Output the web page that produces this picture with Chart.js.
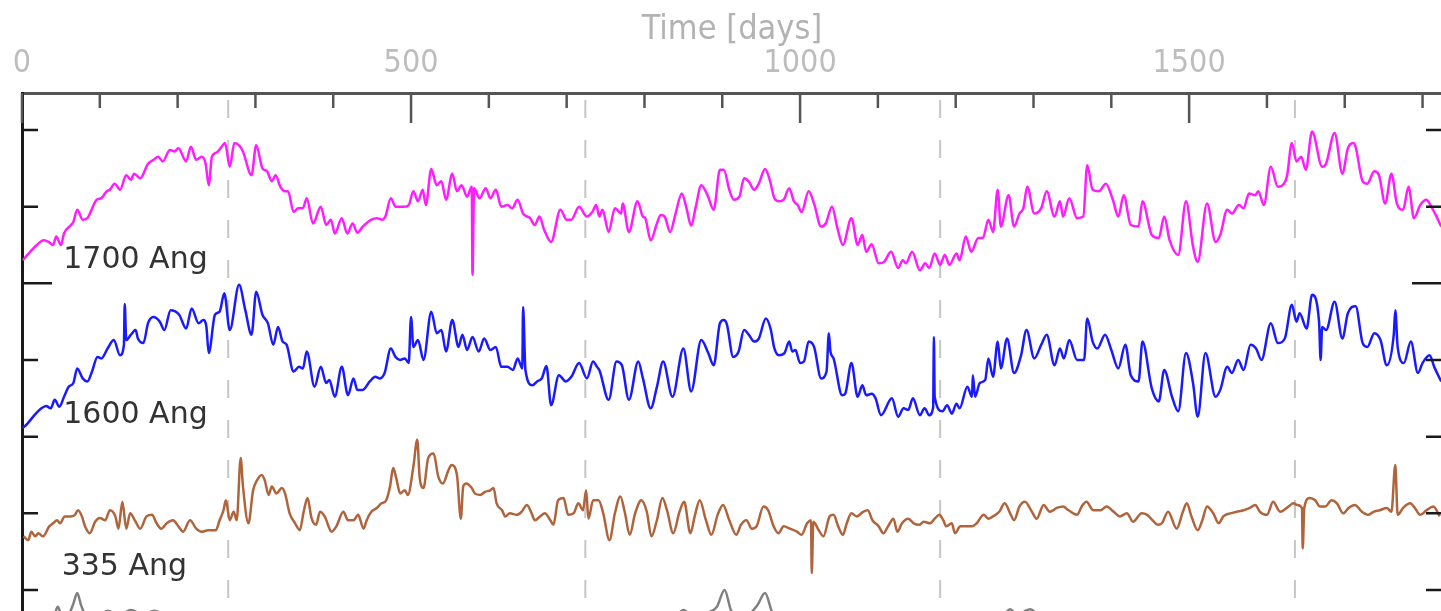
<!doctype html>
<html lang="en">

<head>
    <meta charset="utf-8">
    <style>
        html,
        body {
            margin: 0;
            padding: 0;
            background: #fff;
            overflow: hidden;
        }
    </style>
    <script src="https://cdn.jsdelivr.net/npm/chart.js@4.4.1/dist/chart.umd.min.js"></script>
</head>

<body>
    <canvas id="lightCurves" width="1450" height="611"></canvas>

    <script>
        // axis ticks
        const timeTicks = [0, 500, 1000, 1500];
        const offsetTicks = [0, 1, 2, 3, 4, 5, 6];
        // grey dashed markers (days)
        const markerDays = [265, 724, 1180, 1636];
        const bandNames = ['1700 Ang', '1600 Ang', '335 Ang'];

        // 1700 Ang
        const days1700 = [
            1, 7, 19, 28, 34, 40, 44, 50, 54, 63,
            66, 71, 78, 84, 96, 102, 109, 113, 119, 126,
            134, 140, 144, 152, 162, 169, 175, 181, 190, 196,
            201, 211, 217, 224, 231, 236, 240, 244, 249, 252,
            258, 261, 267, 273, 279, 284, 295, 301, 309, 315,
            321, 326, 332, 338, 342, 349, 355, 361, 366, 374,
            384, 391, 397, 402, 411, 418, 425, 431, 438, 449,
            456, 463, 467, 474, 480, 491, 497, 503, 509, 515,
            519, 526, 533, 539, 545, 553, 559, 565, 572, 578,
            579, 581, 588, 596, 602, 609, 616, 624, 630, 637,
            644, 653, 659, 665, 671, 680, 692, 700, 706, 716,
            726, 733, 738, 742, 746, 754, 762, 770, 772, 780,
            791, 798, 801, 808, 816, 821, 826, 833, 840, 848,
            854, 860, 866, 873, 881, 889, 897,
            902, 909, 915, 922, 928, 934, 941, 947, 955, 961,
            967, 973, 979, 986, 992, 997, 1002, 1011, 1018, 1027,
            1033, 1041, 1048, 1055, 1066, 1074, 1080, 1085, 1092, 1101,
            1108, 1117, 1126, 1132, 1136, 1144, 1154, 1161, 1166, 1173,
            1180, 1186, 1192, 1201, 1205, 1213, 1220, 1229, 1235, 1242,
            1248, 1254, 1258, 1268, 1275, 1282, 1287, 1292, 1301, 1310,
            1317, 1327, 1334, 1338, 1346, 1356, 1364, 1369, 1376, 1384,
            1393, 1402, 1409, 1416, 1425, 1435, 1440, 1452, 1461, 1468,
            1475, 1486, 1496, 1505, 1511, 1523, 1534, 1540, 1549, 1555,
            1564, 1570, 1577, 1585, 1589, 1596, 1605, 1614, 1622, 1626,
            1632, 1638, 1644, 1650, 1658, 1671, 1676, 1687, 1697, 1704,
            1711, 1714, 1723, 1729, 1738, 1744, 1752, 1760, 1767, 1775,
            1782, 1789, 1797, 1805, 1809, 1818, 1824
        ];
        const flux1700 = [
            4.30, 4.37, 4.50, 4.56, 4.54, 4.50, 4.61, 4.50, 4.65, 4.76,
            4.80, 4.96, 4.83, 4.85, 5.09, 5.11, 5.20, 5.22, 5.30, 5.22,
            5.41, 5.35, 5.43, 5.37, 5.56, 5.61, 5.65, 5.59, 5.74, 5.72,
            5.76, 5.59, 5.78, 5.61, 5.65, 5.56, 5.28, 5.65, 5.70, 5.72,
            5.80, 5.83, 5.52, 5.83, 5.80, 5.72, 5.41, 5.80, 5.50, 5.46,
            5.33, 5.41, 5.26, 5.20, 5.20, 4.93, 4.98, 4.98, 5.11, 4.78,
            5.00, 4.76, 4.83, 4.65, 4.85, 4.65, 4.78, 4.66, 4.74, 4.83,
            4.85, 4.83, 4.87, 5.11, 5.00, 5.00, 5.02, 5.20, 5.07, 5.22,
            5.02, 5.49, 5.28, 5.33, 5.09, 5.43, 5.20, 5.28, 5.13, 5.26,
            4.11, 5.24, 5.11, 5.24, 5.11, 5.22, 5.00, 5.02, 4.98, 5.09,
            4.91, 4.85, 4.76, 4.87, 4.70, 4.54, 4.96, 4.83, 4.83, 5.00,
            4.87, 4.93, 5.02, 4.87, 4.96, 4.67, 4.98, 4.91, 5.04, 4.67,
            5.07, 4.87, 4.85, 4.56, 4.78, 4.89, 4.87, 4.67, 4.91, 5.17,
            4.98, 4.75, 5.00, 5.28, 5.15, 4.96, 5.48,
            5.48, 5.22, 5.09, 5.13, 5.37, 5.33, 5.22, 5.30, 5.49, 5.35,
            5.11, 5.07, 5.09, 5.24, 5.07, 5.02, 4.93, 5.20, 5.04, 4.74,
            4.78, 5.00, 4.72, 4.50, 4.85, 4.50, 4.63, 4.41, 4.51, 4.26,
            4.28, 4.41, 4.20, 4.30, 4.26, 4.41, 4.17, 4.26, 4.20, 4.39,
            4.24, 4.37, 4.24, 4.39, 4.30, 4.61, 4.41, 4.59, 4.59, 4.83,
            4.67, 5.22, 4.74, 5.15, 4.74, 4.91, 4.98, 5.26, 4.91, 4.98,
            5.20, 4.87, 5.07, 4.87, 5.11, 4.85, 4.87, 5.54, 5.22, 5.20,
            5.30, 5.09, 4.87, 5.15, 4.76, 4.74, 5.07, 4.63, 4.59, 4.87,
            4.56, 4.37, 5.07, 4.48, 4.28, 5.04, 4.54, 4.63, 4.96, 4.91,
            5.02, 4.98, 5.17, 5.15, 5.20, 5.02, 5.52, 5.26, 5.30, 5.41,
            5.83, 5.59, 5.65, 5.48, 5.98, 5.52, 5.56, 5.96, 5.43, 5.76,
            5.83, 5.78, 5.33, 5.30, 5.46, 5.41, 5.04, 5.43, 5.04, 4.96,
            5.26, 4.85, 5.02, 5.09, 5.04, 4.87, 4.74
        ];

        // 1600 Ang
        const days1600 = [
            1, 7, 16, 25, 31, 37, 42, 48, 54, 60,
            66, 71, 78, 84, 90, 97, 102, 110, 118, 126,
            131, 132, 134, 140, 146, 149, 156, 162, 169, 177,
            183, 191, 202, 211, 218, 227, 233, 237, 240, 248,
            254, 260, 267, 279, 287, 295, 301, 309, 316, 323,
            329, 335, 340, 349, 356, 361, 366, 376, 384, 391,
            395, 402, 411, 419, 426, 431, 438, 447, 454, 460,
            466, 474, 480, 486, 492, 497, 500, 503, 509, 516,
            526, 533, 539, 545, 553, 561, 566, 572, 579, 587,
            594, 602, 609, 616, 624, 631, 637, 643, 644, 647,
            656, 662, 668, 674, 680, 690, 699, 706, 716, 726,
            734, 739, 742, 754, 764, 771, 780, 792, 798, 808,
            816, 824, 836, 850, 860, 873, 882, 889, 897,
            902, 906, 914, 921, 928, 934, 941, 947, 956, 962,
            967, 973, 980, 986, 990, 994, 1000, 1005, 1011, 1018,
            1027, 1034, 1037, 1039, 1043, 1054, 1058, 1066, 1074, 1080,
            1085, 1092, 1097, 1104, 1118, 1126, 1133, 1139, 1145, 1154,
            1160, 1166, 1171, 1172, 1173, 1183, 1189, 1195, 1201, 1205,
            1215, 1221, 1222, 1225, 1231, 1238, 1242, 1248, 1254, 1258,
            1266, 1275, 1284, 1291, 1301, 1310, 1317, 1327, 1334, 1339,
            1346, 1356, 1365, 1369, 1376, 1382, 1392, 1400, 1409, 1418,
            1425, 1435, 1440, 1452, 1461, 1468, 1478, 1486, 1496, 1505,
            1511, 1521, 1534, 1540, 1549, 1555, 1563, 1570, 1579, 1586,
            1593, 1605, 1614, 1623, 1632, 1638, 1642, 1651, 1658, 1667,
            1669, 1671, 1676, 1687, 1697, 1704, 1714, 1723, 1729, 1738,
            1746, 1754, 1763, 1765, 1768, 1776, 1785, 1794, 1800, 1809, 1815, 1824
        ];
        const flux1600 = [
            2.11, 2.17, 2.28, 2.37, 2.40, 2.37, 2.48, 2.39, 2.52, 2.65,
            2.70, 2.89, 2.76, 2.72, 2.85, 3.04, 3.02, 3.15, 3.26, 3.06,
            3.20, 3.73, 3.26, 3.33, 3.39, 3.28, 3.22, 3.48, 3.56, 3.50,
            3.39, 3.65, 3.59, 3.41, 3.67, 3.48, 3.52, 3.43, 3.09, 3.59,
            3.63, 3.87, 3.39, 3.98, 3.65, 3.33, 3.89, 3.59, 3.48, 3.20,
            3.43, 3.24, 3.20, 2.85, 2.91, 2.89, 3.11, 2.65, 2.91, 2.70,
            2.74, 2.52, 2.91, 2.54, 2.76, 2.61, 2.61, 2.72, 2.78, 2.76,
            2.83, 3.15, 3.04, 3.00, 3.02, 2.96, 3.56, 3.17, 3.26, 3.00,
            3.63, 3.35, 3.39, 3.11, 3.52, 3.17, 3.33, 3.13, 3.30, 3.11,
            3.28, 3.13, 3.17, 2.91, 2.91, 2.87, 3.02, 2.89, 3.69, 2.87,
            2.67, 2.72, 2.76, 2.92, 2.41, 2.80, 2.72, 2.78, 2.96, 2.76,
            2.98, 2.91, 2.87, 2.48, 2.98, 2.93, 2.48, 2.98, 2.76, 2.37,
            2.65, 2.98, 2.52, 3.15, 2.59, 3.26, 3.09, 2.93, 3.48,
            3.52, 3.46, 3.04, 3.11, 3.39, 3.33, 3.24, 3.28, 3.54, 3.41,
            3.15, 3.06, 3.09, 3.24, 3.11, 3.13, 2.96, 2.98, 3.24, 3.17,
            2.76, 2.85, 3.35, 3.11, 3.02, 2.54, 2.56, 2.96, 2.52, 2.67,
            2.54, 2.56, 2.50, 2.28, 2.50, 2.26, 2.37, 2.35, 2.50, 2.28,
            2.37, 2.28, 2.38, 3.30, 2.52, 2.33, 2.41, 2.30, 2.43, 2.37,
            2.65, 2.52, 2.80, 2.52, 2.70, 2.74, 3.02, 2.78, 3.24, 2.89,
            3.28, 2.83, 3.06, 3.39, 3.02, 3.20, 3.33, 2.93, 3.15, 3.02,
            3.26, 3.00, 3.00, 3.54, 3.24, 3.15, 3.33, 3.13, 2.89, 3.20,
            2.80, 2.72, 3.24, 2.63, 2.46, 2.87, 2.52, 2.33, 3.09, 2.70,
            2.26, 3.09, 2.52, 2.61, 2.91, 2.83, 3.00, 2.87, 3.20, 3.15,
            3.00, 3.48, 3.22, 3.28, 3.72, 3.50, 3.61, 3.41, 3.85, 3.50,
            3.00, 3.43, 3.39, 3.76, 3.28, 3.61, 3.70, 3.22, 3.17, 3.35,
            3.26, 2.93, 3.33, 3.65, 3.17, 2.96, 3.24, 2.83, 2.96, 3.06, 2.91, 2.72
        ];

        // 335 Ang
        const days335 = [
            2, 8, 12, 17, 21, 27, 35, 40, 45, 49,
            55, 62, 68, 72, 77, 81, 87, 94, 100, 107,
            113, 120, 124, 129, 134, 139, 145, 152, 160, 167,
            173, 179, 186, 194, 201, 207, 216, 224, 231, 239,
            249, 254, 259, 262, 267, 272, 276, 281, 284, 291,
            297, 302, 308, 312, 317, 321, 327, 334, 338, 344,
            351, 357, 362, 367, 372, 378, 383, 389, 398, 404,
            413, 419, 426, 432, 439, 443, 449, 456, 462, 468,
            473, 477, 481, 486, 492, 496, 503, 508, 511, 516,
            522, 529, 535, 541, 548, 552, 559, 564, 567, 571,
            578, 582, 589,
            595, 602, 606, 610, 617, 621, 627, 636, 642, 649,
            655, 659, 666, 672, 679, 683, 689, 696, 702, 709,
            715, 721, 725, 728, 734, 741, 747, 755, 762, 769,
            775, 781, 788, 796, 803, 809, 816, 823, 829, 837,
            845, 851, 859, 865, 871, 879, 886, 894, 901, 909,
            918, 924, 931, 938, 944, 953, 959, 966, 972, 979,
            987, 996, 1002, 1009, 1014, 1015, 1017, 1024, 1030, 1038,
            1043, 1049, 1055, 1060, 1066, 1073, 1081, 1087, 1093, 1101,
            1107, 1113, 1120, 1125, 1131, 1139, 1146, 1153, 1159, 1167,
            1173, 1179, 1184, 1188, 1195, 1199, 1206,
            1212, 1221, 1227, 1236, 1242, 1248, 1256, 1263, 1270, 1275,
            1282, 1289, 1298, 1304, 1313, 1321, 1330, 1338, 1345, 1356,
            1362, 1368, 1377, 1386, 1394, 1403, 1411, 1420, 1428, 1439,
            1446, 1453, 1460, 1465, 1473, 1484, 1492, 1497, 1503, 1511,
            1517, 1523, 1531, 1538, 1544, 1553, 1561, 1570, 1578, 1585,
            1591, 1600, 1608, 1617, 1628, 1634, 1639, 1645, 1646, 1648,
            1655, 1662, 1668, 1675, 1683, 1690, 1698, 1705, 1713, 1722,
            1730, 1737, 1745, 1754, 1760, 1765, 1768, 1775, 1784, 1790,
            1797, 1805, 1814, 1822
        ];
        const flux335 = [
            0.70, 0.65, 0.76, 0.70, 0.74, 0.70, 0.83, 0.87, 0.91, 0.87,
            0.96, 0.96, 0.98, 1.04, 0.96, 0.83, 0.74, 0.89, 0.94, 0.91,
            1.04, 0.96, 0.80, 1.15, 0.80, 1.00, 0.91, 0.80, 0.96, 0.98,
            0.87, 0.80, 0.87, 0.91, 0.83, 0.76, 0.91, 0.80, 0.76, 0.78,
            0.78, 0.91, 1.04, 1.17, 0.91, 1.02, 0.91, 1.72, 1.35, 0.87,
            1.30, 1.43, 1.50, 1.43, 1.24, 1.35, 1.26, 1.33, 1.26, 1.00,
            0.87, 0.78, 1.02, 1.20, 0.94, 0.85, 1.02, 0.96, 0.76, 0.83,
            1.02, 0.91, 0.91, 0.98, 0.80, 0.91, 1.02, 1.07, 1.13, 1.17,
            1.35, 1.59, 1.46, 1.26, 1.30, 1.24, 1.61, 1.96, 1.48, 1.33,
            1.72, 1.78, 1.48, 1.39, 1.56, 1.63, 1.50, 0.93, 1.35, 1.39,
            1.33, 1.26, 1.24,
            1.28, 1.30, 1.33, 1.13, 1.04, 0.96, 1.00, 0.98, 1.02, 1.11,
            1.00, 0.91, 0.96, 1.00, 0.91, 0.85, 1.17, 1.20, 0.98, 1.00,
            1.13, 1.04, 1.30, 0.93, 1.17, 1.17, 1.00, 0.65, 1.00, 1.22,
            1.00, 0.72, 1.00, 1.17, 1.02, 0.70, 0.91, 1.20, 1.04, 0.74,
            1.02, 1.15, 0.74, 0.98, 1.17, 0.91, 0.72, 0.98, 1.11, 0.91,
            0.72, 0.85, 0.91, 0.80, 0.83, 1.09, 1.04, 0.83, 0.74, 0.83,
            0.80, 0.76, 0.72, 0.87, 0.91, 0.22, 0.89, 0.78, 0.70, 0.96,
            0.98, 0.83, 0.72, 0.87, 1.00, 0.96, 1.02, 1.04, 0.91, 0.83,
            0.74, 0.83, 0.93, 0.76, 0.87, 0.93, 0.87, 0.85, 0.89, 0.87,
            0.93, 0.98, 0.91, 0.83, 0.87, 0.74, 0.83,
            0.83, 0.83, 0.87, 0.98, 0.93, 0.96, 1.02, 1.13, 1.00, 0.91,
            1.09, 1.15, 1.02, 0.93, 1.11, 1.02, 1.07, 1.09, 1.04, 0.98,
            1.09, 1.15, 1.04, 1.04, 1.09, 1.02, 0.96, 1.00, 0.89, 1.00,
            0.98, 0.91, 0.85, 0.87, 1.02, 0.80, 1.02, 1.13, 0.96, 0.78,
            0.91, 1.09, 1.00, 0.87, 0.96, 1.00, 1.02, 1.04, 1.07, 1.11,
            1.02, 0.98, 1.15, 1.02, 1.09, 1.13, 1.11, 1.07, 0.54, 1.07,
            1.20, 1.17, 1.09, 1.09, 1.17, 1.13, 1.00, 1.07, 1.11, 1.02,
            0.98, 1.02, 1.04, 1.07, 1.02, 1.63, 0.98, 1.07, 1.13, 1.07,
            0.98, 1.04, 1.09, 0.96
        ];

        // next band down, only its peaks reach into the frame
        const daysLower = [
            0, 30, 40, 46, 52, 60, 66, 71, 76, 82,
            92, 110, 125, 140, 155, 170, 200, 400, 600, 800,
            840, 850, 862, 880, 893, 903, 912, 930, 945, 955,
            965, 1000, 1200, 1262, 1270, 1280, 1290, 1296, 1310, 1500,
            1825
        ];
        const fluxLower = [
            -0.45, -0.42, -0.38, -0.22, -0.36, -0.32, -0.18, -0.04, -0.20, -0.34,
            -0.40, -0.27, -0.33, -0.26, -0.32, -0.27, -0.42, -0.45, -0.45, -0.42,
            -0.35, -0.26, -0.34, -0.30, -0.22, 0.00, -0.28, -0.34, -0.20, -0.04,
            -0.30, -0.40, -0.42, -0.32, -0.25, -0.34, -0.27, -0.25, -0.36, -0.44,
            -0.45
        ];

        const X_MAX = 1825;
        const Y_MIN = -0.274;
        const Y_MAX = 6.482;

        function toPoints(xs, ys) {
            return xs.map((x, i) => ({ x: x, y: ys[i] }));
        }

        function band(label, xs, ys, color) {
            return {
                label: label,
                data: toPoints(xs, ys),
                borderColor: color,
                borderWidth: 2.5,
                borderJoinStyle: 'round',
                cubicInterpolationMode: 'monotone',
                pointRadius: 0,
                fill: false
            };
        }

        // inward ticks, dashed markers and band names
        const frameExtras = {
            id: 'frameExtras',
            beforeDatasetsDraw(chart) {
                const { ctx, chartArea: a, scales: { x } } = chart;
                ctx.save();
                ctx.strokeStyle = '#c6c6c6';
                ctx.lineWidth = 2;
                ctx.setLineDash([18, 22]);
                markerDays.forEach(d => {
                    const px = x.getPixelForValue(d);
                    ctx.beginPath();
                    ctx.moveTo(px, a.top + 7);
                    ctx.lineTo(px, a.bottom);
                    ctx.stroke();
                });
                ctx.restore();
            },
            afterDatasetsDraw(chart) {
                const { ctx, chartArea: a, scales: { x, y } } = chart;
                ctx.save();
                ctx.lineWidth = 2.5;

                ctx.strokeStyle = '#555';
                for (let d = 0; d <= X_MAX; d += 100) {
                    const px = x.getPixelForValue(d);
                    const len = d % 500 === 0 ? 30 : 15;
                    ctx.beginPath();
                    ctx.moveTo(px, a.top);
                    ctx.lineTo(px, a.top + len);
                    ctx.stroke();
                }

                ctx.strokeStyle = '#1a1a1a';
                offsetTicks.forEach(v => {
                    const py = y.getPixelForValue(v);
                    const len = v === 4 ? 30 : 16;
                    ctx.beginPath();
                    ctx.moveTo(a.left, py);
                    ctx.lineTo(a.left + len, py);
                    ctx.moveTo(a.right, py);
                    ctx.lineTo(a.right - len, py);
                    ctx.stroke();
                });

                ctx.fillStyle = '#333';
                ctx.font = '30px "DejaVu Sans"';
                ctx.textBaseline = 'alphabetic';
                const anchors = [[53, 4.20], [53, 2.18], [51, 0.20]];
                bandNames.forEach((name, i) => {
                    ctx.fillText(name, x.getPixelForValue(anchors[i][0]), y.getPixelForValue(anchors[i][1]));
                });
                ctx.restore();
            }
        };

        const ctx = document.getElementById('lightCurves');
        const chart = new Chart(ctx, {
            type: 'line',
            data: {
                datasets: [
                    band(bandNames[0], days1700, flux1700, '#ff1cff'),
                    band(bandNames[1], days1600, flux1600, '#1a1aff'),
                    band(bandNames[2], days335, flux335, '#b0643c'),
                    band('lower', daysLower, fluxLower, '#808080')
                ]
            },
            options: {
                responsive: false,
                animation: false,
                layout: { padding: { top: 0, left: 0, right: 8, bottom: 0 } },
                plugins: {
                    legend: { display: false },
                    tooltip: { enabled: false }
                },
                scales: {
                    x: {
                        type: 'linear',
                        position: 'top',
                        min: 0,
                        max: X_MAX,
                        afterBuildTicks: s => { s.ticks = timeTicks.map(v => ({ value: v })); },
                        afterFit: s => { s.height = 93; },
                        grid: { display: false, drawTicks: false },
                        border: { display: true, color: '#555', width: 3 },
                        ticks: {
                            color: '#bdbdbd',
                            font: { family: 'DejaVu Sans Condensed', size: 32 },
                            padding: 10,
                            maxRotation: 0,
                            autoSkip: false,
                            callback: v => String(v)
                        },
                        title: {
                            display: true,
                            text: 'Time [days]',
                            color: '#b3b3b3',
                            font: { family: 'DejaVu Sans Condensed', size: 34 },
                            padding: { top: 10, bottom: 0 }
                        }
                    },
                    y: {
                        type: 'linear',
                        position: 'left',
                        min: Y_MIN,
                        max: Y_MAX,
                        afterBuildTicks: s => { s.ticks = offsetTicks.map(v => ({ value: v })); },
                        afterFit: s => { s.width = 22; },
                        grid: { display: false, drawTicks: false },
                        border: { display: true, color: '#1a1a1a', width: 3 },
                        ticks: { display: false }
                    }
                }
            },
            plugins: [frameExtras]
        });
    </script>
</body>

</html>
